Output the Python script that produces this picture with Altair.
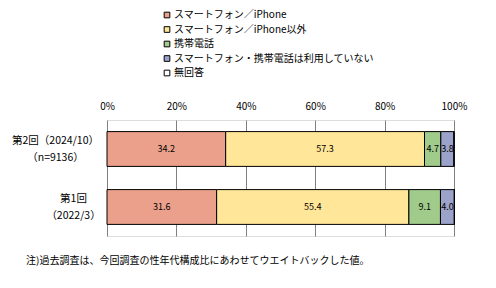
import altair as alt
import pandas as pd

rounds = ["第2回（2024/10）|（n=9136）", "第1回|（2022/3）"]
categories = ["スマートフォン／iPhone", "スマートフォン／iPhone以外", "携帯電話",
              "スマートフォン・携帯電話は利用していない", "無回答"]
colors = ["#EBA08B", "#FFE699", "#A1CB8B", "#9CA3CA", "#FFFFFF"]
values_r2 = [34.2, 57.3, 4.7, 3.8, 0.0]
values_r1 = [31.6, 55.4, 9.1, 4.0, 0.0]

rows = []
for r, vals in zip(rounds, [values_r2, values_r1]):
    for i, (c, v) in enumerate(zip(categories, vals)):
        rows.append({"round": r, "cat": c, "value": v, "order": i})
df = pd.DataFrame(rows)

FONT = "Noto Sans CJK JP"

base = alt.Chart(df)

y_enc = alt.Y("round:N", sort=rounds, title=None,
              scale=alt.Scale(paddingInner=0.4, paddingOuter=0.2),
              axis=alt.Axis(labelExpr="split(datum.label, '|')", labelFontSize=10.5,
                            labelFont=FONT, labelColor="black", ticks=False, domain=False,
                            labelAlign="center", labelLineHeight=17, labelOffset=-8,
                            labelPadding={"condition": {"test": "indexof(datum.label, '第2回') >= 0", "value": 52}, "value": 34}))

bars = base.mark_bar(stroke="black", strokeWidth=1).encode(
    x=alt.X("value:Q", stack="zero", title=None,
            scale=alt.Scale(domain=[0, 100], nice=False),
            axis=alt.Axis(orient="top", values=[0, 20, 40, 60, 80, 100],
                          labelExpr="datum.value + '%'", labelFontSize=10, labelFont=FONT,
                          labelColor="black", ticks=False, domain=False, grid=True,
                          gridColor="#808080", gridWidth=1, labelPadding=9,
                          labelFlush=False)),
    y=y_enc,
    color=alt.Color("cat:N", sort=categories,
                    scale=alt.Scale(domain=categories, range=colors),
                    legend=alt.Legend(title=None, orient="none", legendX=55, legendY=-110,
                                      symbolType="square", symbolSize=32, symbolStrokeColor="black",
                                      symbolStrokeWidth=1, labelFontSize=10, labelFont=FONT,
                                      labelColor="black", rowPadding=4.5, labelOffset=2,
                                      labelLimit=400)),
    order=alt.Order("order:Q"),
)

texts = base.transform_window(
    cum="sum(value)", sort=[alt.SortField("order")], groupby=["round"],
    frame=[None, 0]
).transform_calculate(
    mid="datum.cum - datum.value / 2"
).transform_filter("datum.value > 0").mark_text(
    fontSize=9, font=FONT, color="black"
).encode(
    x=alt.X("mid:Q"),
    y=alt.Y("round:N", sort=rounds),
    text=alt.Text("value:Q", format=".1f"),
)

chart = alt.layer(bars, texts).properties(
    width=347, height=116,
    autosize=alt.AutoSizeParams(type="none"),
    padding={"left": 107, "top": 120, "right": 42, "bottom": 52},
    title=alt.TitleParams("注)過去調査は、今回調査の性年代構成比にあわせてウエイトバックした値。",
                          orient="bottom", anchor="start", dx=-81, offset=20, frame="group",
                          fontSize=10, font=FONT, fontWeight="normal", color="black",
                          baseline="top"),
).configure_view(stroke="black", strokeWidth=1.5).configure(background="white")

chart.save("out.html", embed_options={"renderer": "svg", "actions": False})
